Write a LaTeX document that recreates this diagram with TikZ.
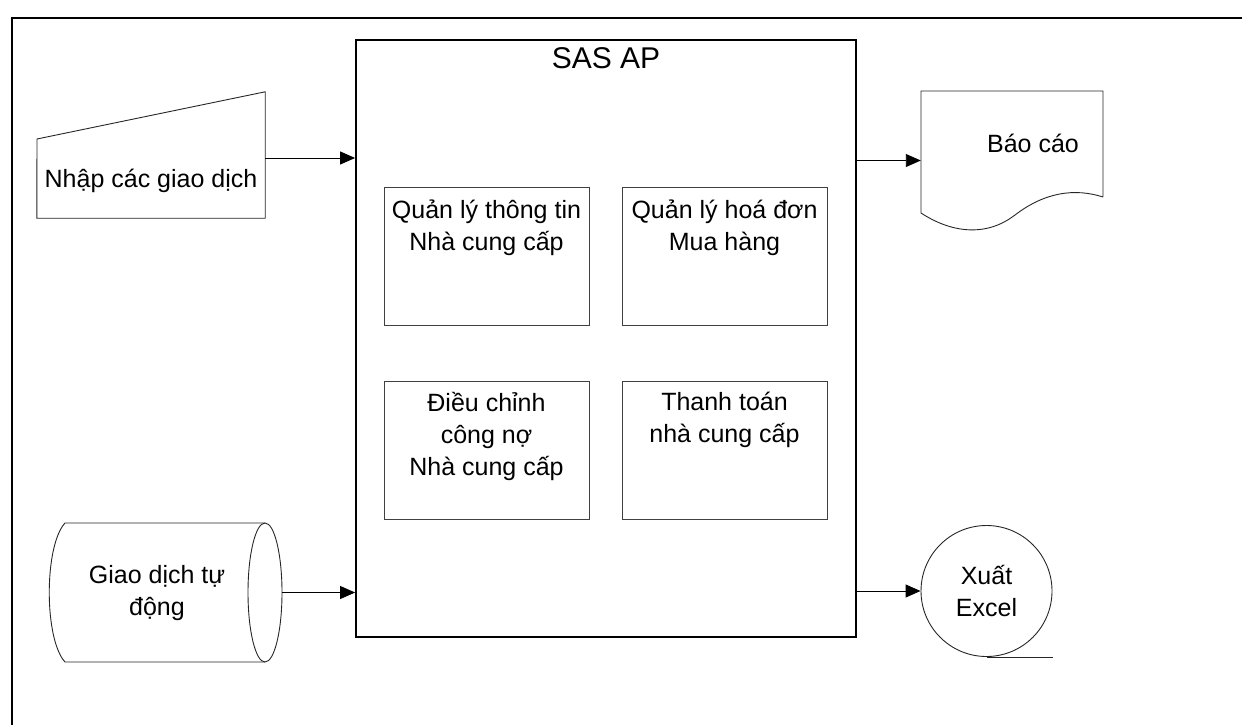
\documentclass[tikz,border=0pt]{standalone}
\usepackage{fontspec}
\setmainfont{Liberation Sans}
\usetikzlibrary{arrows.meta,calc}
\begin{document}
\begin{tikzpicture}[x=1pt,y=-1pt,
  txt/.style={font=\fontsize{25}{32}\selectfont, align=center, inner sep=0pt},
  shapeline/.style={draw=black!85, line width=0.9pt},
  sub/.style={draw=black!75, line width=1pt, minimum width=205pt, minimum height=138pt, inner sep=0pt},
  ghost/.style={inner sep=0pt, draw=none},
  arr/.style={line width=0.9pt, -{Triangle[length=15pt,width=13pt]}}]
\useasboundingbox (0,0) rectangle (1242,725);
% outer frame
\draw[line width=2.5pt] (1250,18) -- (12,18) -- (12,735);
% main box
\node[draw, line width=1.8pt, minimum width=500pt, minimum height=597pt, inner sep=0pt] (sas) at (606,338.5) {};
\node[txt, font=\fontsize{30}{36}\selectfont] (sastitle) at (606,58) {SAS AP};
% sub boxes
\node[sub] (q1) at (486.5,256.5) {};
\node[sub] (q2) at (724.5,256.5) {};
\node[sub] (q3) at (486.5,450.5) {};
\node[sub] (q4) at (724.5,450.5) {};
\node[txt] (t1) at (486.5,227.5) {Quản lý thông tin\\Nhà cung cấp};
\node[txt] (t2) at (724.5,227.5) {Quản lý hoá đơn\\Mua hàng};
\node[txt] (t3) at (486.5,436.5) {Điều chỉnh\\công nợ\\Nhà cung cấp};
\node[txt] (t4) at (724.5,420) {Thanh toán\\nhà cung cấp};
% manual input
\node[ghost, minimum width=228pt, minimum height=126pt] (nhap) at (151,155) {};
\draw[shapeline] (nhap.south west) -- (37,139) -- (nhap.north east) -- (nhap.south east) -- cycle;
\node[txt] (tnhap) at (151,181) {Nhập các giao dịch};
\coordinate (a1) at ($(nhap.east)+(0,3)$);
\draw[arr] (a1) -- (a1 -| sas.west);
% document
\node[ghost, minimum width=182pt, minimum height=139pt] (bao) at (1012,160.5) {};
\draw[shapeline] (1103,197) -- (1103,91) -- (921,91) -- (921,213)
  .. controls (950,232) and (985,238) .. (1015,215)
  .. controls (1045,192) and (1075,188) .. (1103,197);
\node[txt] (tbao) at (1033,143) {Báo cáo};
\draw[arr] (sas.east |- bao.west) -- (bao.west);
% cylinder
\node[ghost, minimum width=233pt, minimum height=139pt] (cyl) at (165.5,592.5) {};
\draw[shapeline] (265,523) -- (65,523) .. controls (44,546) and (44,639) .. (65,662) -- (265,662);
\draw[shapeline] (265,592.5) ellipse [x radius=17, y radius=69.5];
\node[txt] (tcyl) at (157,593.5) {Giao dịch tự\\động};
\draw[arr] (cyl.east) -- (cyl.east -| sas.west);
% circle
\node[circle, shapeline, minimum size=131pt, inner sep=0pt, txt] (xuat) at (986.5,591) {Xuất\\Excel};
\draw[shapeline] (xuat.south) -- ++(66,0);
\draw[arr] (sas.east |- xuat.west) -- (xuat.west);
\end{tikzpicture}
\end{document}
